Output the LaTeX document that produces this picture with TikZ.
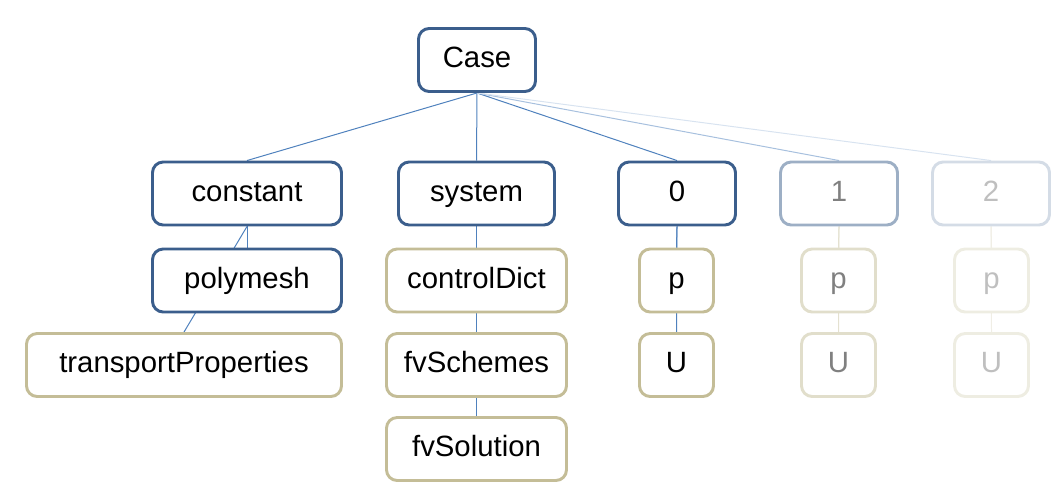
\documentclass[tikz,border=0pt]{standalone}
\usepackage{fontspec}
\setmainfont{Liberation Sans}
\usetikzlibrary{backgrounds}

\definecolor{darkframe}{RGB}{59,94,140}
\definecolor{tanframe}{RGB}{196,189,151}
\definecolor{linkblue}{RGB}{79,129,189}

\begin{document}
\begin{tikzpicture}[x = 0.75pt, y = -0.75pt,
	box/.style = {draw, fill = white, rounded corners = 8pt, line width = 2.2pt,
		inner sep = 0pt, minimum height = 47.25pt,
		text height = 16.5pt, text depth = 4.6pt,
		font = \fontsize{22}{24}\selectfont},
	dirbox/.style = {box, draw = darkframe},
	filebox/.style = {box, draw = tanframe},
	link/.style = {line width = 0.75pt, draw = linkblue}]

	% Page frame
	
	\useasboundingbox (0, 0) rectangle (1063, 497);
	
	% Case and its folders
	
	\node [dirbox, minimum width = 87.75pt] (case) at (477, 60) {Case};
	
	\node [dirbox, minimum width = 141.75pt] (constant) at (247, 193.5) {constant};
	\node [dirbox, minimum width = 117pt] (system) at (476.5, 193.5) {system};
	\node [dirbox, minimum width = 87.75pt] (zero) at (677, 193.5) {0};
	\node [dirbox, minimum width = 87.75pt, draw = darkframe!50, text = black!50] (one) at (839, 193.5) {1};
	\node [dirbox, minimum width = 87.75pt, draw = darkframe!22, text = black!25] (two) at (991, 193.5) {2};
	
	% Contents of constant
	
	\node [dirbox, minimum width = 141.75pt] (polymesh) at (247, 280.5) {polymesh};
	\node [filebox, minimum width = 236.25pt] (transport) at (184, 365) {transportProperties};
	
	% Contents of system
	
	\node [filebox, minimum width = 135pt] (controldict) at (476.5, 280.5) {controlDict};
	\node [filebox, minimum width = 135pt] (fvschemes) at (476.5, 365) {fvSchemes};
	\node [filebox, minimum width = 135pt] (fvsolution) at (476.5, 449) {fvSolution};
	
	% Fields of the time folders
	
	\node [filebox, minimum width = 55.5pt] (pzero) at (676.5, 280.5) {p};
	\node [filebox, minimum width = 55.5pt] (uzero) at (676.5, 365) {U};
	
	\node [filebox, minimum width = 55.5pt, draw = tanframe!50, text = black!50] (pone) at (838.5, 280.5) {p};
	\node [filebox, minimum width = 55.5pt, draw = tanframe!50, text = black!50] (uone) at (838.5, 365) {U};
	
	\node [filebox, minimum width = 55.5pt, draw = tanframe!28, text = black!25] (ptwo) at (991.5, 280.5) {p};
	\node [filebox, minimum width = 55.5pt, draw = tanframe!28, text = black!25] (utwo) at (991.5, 365) {U};
	
	% Connectors, behind the boxes
	
	\begin{scope}[on background layer]
	
		\draw [link] (case.south) -- (constant.north);
		\draw [link] (case.south) -- (system.north);
		\draw [link] (case.south) -- (zero.north);
		\draw [link, draw = linkblue!50] (case.south) -- (one.north);
		\draw [link, draw = linkblue!22] (case.south) -- (two.north);
		
		\draw [link] (constant.south) -- (polymesh.north);
		\draw [link] (constant.south) -- (transport.north);
		
		\draw [link] (system.south) -- (controldict.north);
		\draw [link] (system.south) -- (fvschemes.north);
		\draw [link] (system.south) -- (fvsolution.north);
		
		\draw [link] (zero.south) -- (pzero.north);
		\draw [link] (zero.south) -- (uzero.north);
		
		\draw [link, draw = tanframe!45] (one.south) -- (pone.north);
		\draw [link, draw = tanframe!45] (one.south) -- (uone.north);
		
		\draw [link, draw = tanframe!25] (two.south) -- (ptwo.north);
		\draw [link, draw = tanframe!25] (two.south) -- (utwo.north);
		
	\end{scope}
		
\end{tikzpicture}
\end{document}
